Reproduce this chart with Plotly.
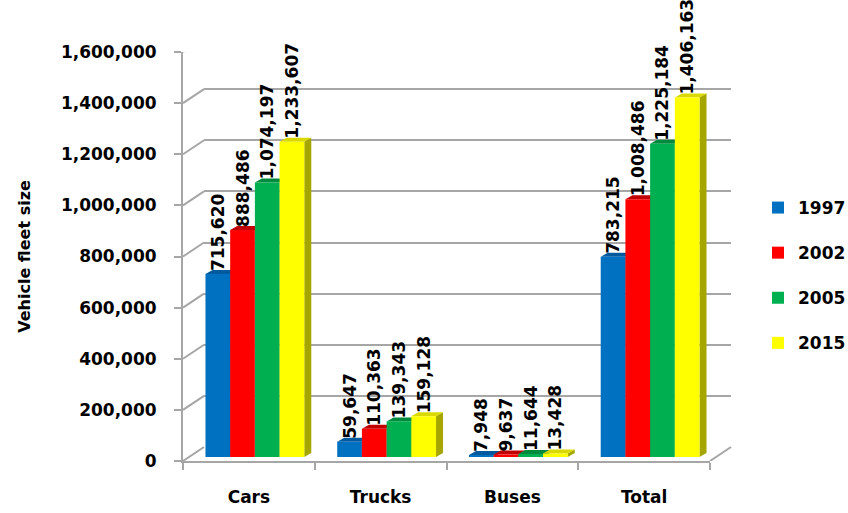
import plotly.graph_objects as go

# ---- data -------------------------------------------------------------
categories = ["Cars", "Trucks", "Buses", "Total"]
years = ["1997", "2002", "2005", "2015"]
fleet_1997 = [715620, 59647, 7948, 783215]
fleet_2002 = [888486, 110363, 9637, 1008486]
fleet_2005 = [1074197, 139343, 11644, 1225184]
fleet_2015 = [1233607, 159128, 13428, 1406163]
series = [fleet_1997, fleet_2002, fleet_2005, fleet_2015]

face_colors = ["#0070C0", "#FF0000", "#00B050", "#FFFF00"]
top_colors = ["#005A9E", "#C00000", "#008A3E", "#D9D900"]
side_colors = ["#004F8A", "#A80000", "#00773A", "#A6A600"]

y_max = 1600000
y_step = 200000

# ---- geometry (pixels) ------------------------------------------------
W, H = 848, 513
L, R, T, B = 183, 117, 38, 52          # margins
PW, PH = W - L - R, H - T - B          # plot area size
DX, DY = 21, 14                        # depth of the pseudo-3D box
BX, BY = 6, 4                          # depth offset of the bar fronts
SX, SY = 7, 4                          # depth of each bar's side/top face

front_x = [0, (PW - DX) / PW]
front_y = [0, (PH - DY) / PH]
back_x = [DX / PW, 1]
back_y = [DY / PH, 1]
bar_x = [BX / PW, (PW - DX + BX) / PW]
bar_y = [BY / PH, (PH - DY + BY) / PH]

bargap = 0.25
n_ser = len(series)
bw = (1 - bargap) / n_ser
kx = (PW - DX) / len(categories)       # px per category unit
ky = (PH - DY) / y_max                 # px per data unit

grey = "#A6A6A6"
font_family = "DejaVu Sans"
xr = [-0.5, len(categories) - 0.5]

fig = go.Figure()

# empty trace that anchors the back-wall subplot (gridlines only)
fig.add_trace(go.Scatter(x=[], y=[], xaxis="x2", yaxis="y2",
                         showlegend=False, hoverinfo="skip"))

# bars
for i, (yr, vals) in enumerate(zip(years, series)):
    fig.add_trace(go.Bar(
        x=list(range(len(categories))), y=vals, name=yr,
        xaxis="x3", yaxis="y3",
        marker=dict(color=face_colors[i], line=dict(width=0)),
        text=[f"{v:,}" for v in vals], textposition="outside",
        textangle=-90, constraintext="none", cliponaxis=False,
        textfont=dict(family=font_family, size=17, color="black", weight="bold"),
        legendgroup=yr, hoverinfo="skip",
    ))

shapes = []
# side and top faces of each bar (drawn behind the bars)
for i, vals in enumerate(series):
    for j, v in enumerate(vals):
        left = j + (i - n_ser / 2) * bw
        right = left + bw
        dx, dy = SX / kx, SY / ky
        side = (f"M{right},0 L{right + dx},{dy} L{right + dx},{v + dy} "
                f"L{right},{v} Z")
        top = (f"M{left},{v} L{left + dx},{v + dy} L{right + dx},{v + dy} "
               f"L{right},{v} Z")
        shapes.append(dict(type="path", path=side, xref="x3", yref="y3",
                           fillcolor=side_colors[i], line=dict(width=0),
                           layer="between"))
        shapes.append(dict(type="path", path=top, xref="x3", yref="y3",
                           fillcolor=top_colors[i], line=dict(width=0),
                           layer="between"))

# diagonal connectors from the front value axis to the back wall
for t in range(0, y_max + 1, y_step):
    shapes.append(dict(type="line", xref="paper", yref="y",
                       x0=front_x[0], x1=back_x[0],
                       ysizemode="pixel", yanchor=t, y0=0, y1=DY,
                       line=dict(color=grey, width=2), layer="below"))
# right edge of the floor
shapes.append(dict(type="line", xref="paper", yref="y",
                   x0=front_x[1], x1=back_x[1],
                   ysizemode="pixel", yanchor=0, y0=0, y1=DY,
                   line=dict(color=grey, width=2), layer="below"))

fig.update_layout(
    width=W, height=H,
    margin=dict(l=L, r=R, t=T, b=B, pad=0, autoexpand=False),
    paper_bgcolor="white", plot_bgcolor="rgba(0,0,0,0)",
    barmode="group", bargap=bargap, bargroupgap=0,
    font=dict(family=font_family, size=17, color="black", weight="bold"),
    showlegend=True,
    legend=dict(xref="container", yref="container",
                x=758 / W, xanchor="left",
                y=1 - 190 / H, yanchor="top",
                font=dict(family=font_family, size=17, color="black", weight="bold"),
                tracegroupgap=20, bgcolor="rgba(0,0,0,0)",
                itemclick=False, itemdoubleclick=False),
    shapes=shapes,
    # front box: value axis with labels, floor edge with category labels
    xaxis=dict(domain=front_x, range=xr, anchor="y", automargin=False,
               tickmode="array", tickvals=list(range(len(categories))),
               ticktext=categories, ticks="", ticklabelstandoff=20,
               showline=True, linecolor=grey, linewidth=2,
               showgrid=False, zeroline=False, fixedrange=True,
               minor=dict(tickmode="array",
                          tickvals=[k - 0.5 for k in range(len(categories) + 1)],
                          ticks="outside", ticklen=7, tickwidth=2,
                          tickcolor=grey, showgrid=False)),
    yaxis=dict(domain=front_y, range=[0, y_max], anchor="x", automargin=False,
               dtick=y_step, tickformat=",", ticks="outside", ticklen=7,
               tickwidth=2, tickcolor=grey, ticklabelstandoff=14,
               showline=True, linecolor=grey, linewidth=2,
               showgrid=False, zeroline=False, fixedrange=True,
               title=dict(text="Vehicle fleet size", standoff=26,
                          font=dict(size=16))),
    # back wall: horizontal gridlines
    xaxis2=dict(domain=back_x, range=xr, anchor="y2", automargin=False,
                showticklabels=False, ticks="", showline=False,
                showgrid=False, zeroline=False, fixedrange=True),
    yaxis2=dict(domain=back_y, range=[0, y_max], anchor="x2", automargin=False,
                dtick=y_step, showticklabels=False, ticks="",
                showgrid=True, gridcolor=grey, gridwidth=2,
                zeroline=False, showline=False, fixedrange=True),
    # bars sit between the front and back planes
    xaxis3=dict(domain=bar_x, range=xr, anchor="y3", visible=False,
                automargin=False, fixedrange=True),
    yaxis3=dict(domain=bar_y, range=[0, y_max], anchor="x3", visible=False,
                automargin=False, fixedrange=True),
)

fig.write_html("out.html")
